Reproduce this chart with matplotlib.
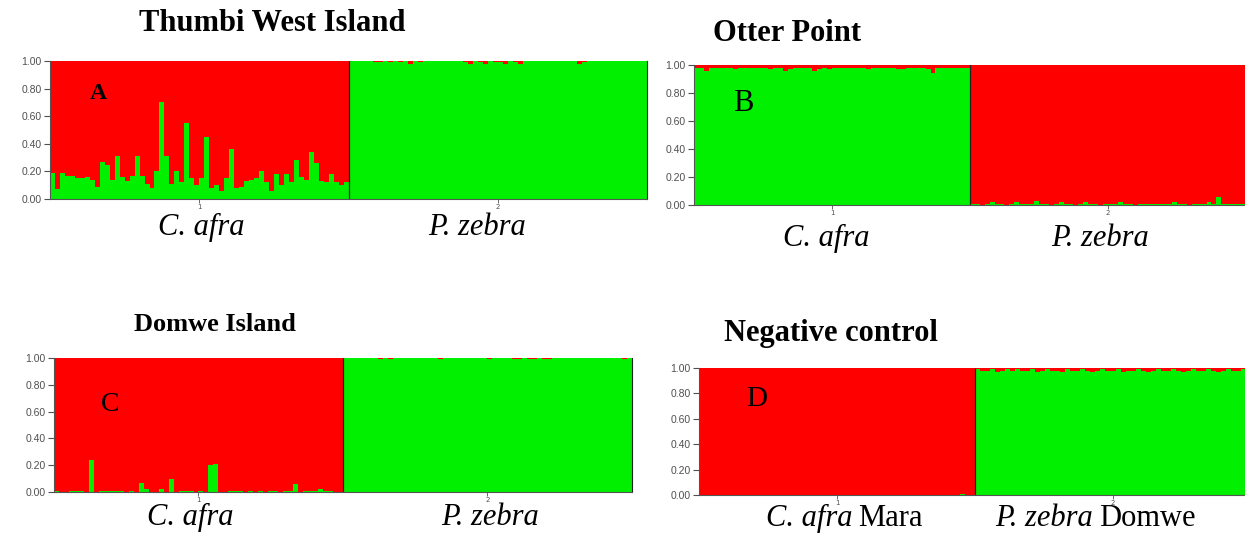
import numpy as np
import matplotlib
matplotlib.use("Agg")
import matplotlib.pyplot as plt

# Membership in the green cluster for each individual (red = 1 - green)
# Panel A: Thumbi West Island
thumbi_afra = [0.19, 0.07, 0.19, 0.17, 0.17, 0.15, 0.15, 0.16, 0.14, 0.09,
               0.27, 0.25, 0.14, 0.31, 0.16, 0.13, 0.17, 0.31, 0.17, 0.11,
               0.08, 0.20, 0.70, 0.31, 0.11, 0.20, 0.12, 0.55, 0.15, 0.10,
               0.15, 0.45, 0.08, 0.10, 0.06, 0.15, 0.36, 0.08, 0.09, 0.13,
               0.14, 0.15, 0.20, 0.12, 0.06, 0.18, 0.10, 0.18, 0.12, 0.28,
               0.16, 0.14, 0.34, 0.26, 0.13, 0.12, 0.18, 0.12, 0.10, 0.12]
thumbi_zebra = [1.00, 1.00, 1.00, 1.00, 1.00, 0.99, 0.99, 1.00, 0.99, 1.00,
                0.99, 1.00, 0.98, 1.00, 0.99, 1.00, 1.00, 1.00, 1.00, 1.00,
                1.00, 1.00, 1.00, 0.99, 0.98, 1.00, 0.99, 0.98, 1.00, 0.99,
                0.99, 0.98, 1.00, 0.99, 0.98, 1.00, 1.00, 1.00, 1.00, 1.00,
                1.00, 1.00, 1.00, 1.00, 1.00, 1.00, 0.98, 0.99, 1.00, 1.00,
                1.00, 1.00, 1.00, 1.00, 1.00, 1.00, 1.00, 1.00, 1.00, 1.00]

# Panel B: Otter Point
otter_afra = [0.98, 0.98, 0.96, 0.98, 0.98, 0.98, 0.98, 0.98, 0.97, 0.98,
              0.98, 0.98, 0.98, 0.98, 0.98, 0.97, 0.98, 0.98, 0.96, 0.97,
              0.98, 0.98, 0.98, 0.98, 0.96, 0.97, 0.98, 0.97, 0.98, 0.98,
              0.98, 0.98, 0.98, 0.98, 0.98, 0.97, 0.98, 0.98, 0.98, 0.98,
              0.98, 0.97, 0.97, 0.98, 0.98, 0.98, 0.98, 0.97, 0.94, 0.98,
              0.98, 0.98, 0.98, 0.98, 0.98, 0.98]
otter_zebra = [0.01, 0.01, 0.00, 0.01, 0.02, 0.01, 0.01, 0.00, 0.01, 0.02,
               0.01, 0.01, 0.01, 0.03, 0.01, 0.01, 0.00, 0.01, 0.02, 0.01,
               0.01, 0.00, 0.01, 0.02, 0.01, 0.01, 0.00, 0.01, 0.01, 0.01,
               0.02, 0.01, 0.01, 0.00, 0.01, 0.01, 0.01, 0.01, 0.01, 0.01,
               0.01, 0.02, 0.01, 0.01, 0.00, 0.01, 0.01, 0.01, 0.02, 0.01,
               0.06, 0.01, 0.01, 0.01, 0.01, 0.01]

# Panel C: Domwe Island
domwe_afra = [0.01, 0.00, 0.00, 0.01, 0.01, 0.01, 0.00, 0.24, 0.00, 0.01,
              0.01, 0.01, 0.01, 0.01, 0.00, 0.01, 0.00, 0.07, 0.02, 0.00,
              0.00, 0.02, 0.00, 0.10, 0.00, 0.01, 0.01, 0.01, 0.00, 0.01,
              0.00, 0.20, 0.21, 0.00, 0.00, 0.01, 0.01, 0.01, 0.00, 0.01,
              0.00, 0.01, 0.00, 0.01, 0.01, 0.00, 0.01, 0.01, 0.06, 0.00,
              0.01, 0.01, 0.01, 0.02, 0.01, 0.01, 0.00, 0.00]
domwe_zebra = [1.00, 1.00, 1.00, 1.00, 1.00, 1.00, 1.00, 0.99, 1.00, 0.99,
               1.00, 1.00, 1.00, 1.00, 1.00, 1.00, 1.00, 1.00, 1.00, 0.99,
               1.00, 1.00, 1.00, 1.00, 1.00, 1.00, 1.00, 1.00, 1.00, 0.99,
               1.00, 1.00, 1.00, 1.00, 0.99, 0.99, 1.00, 0.99, 0.99, 1.00,
               0.99, 0.99, 1.00, 1.00, 1.00, 1.00, 1.00, 1.00, 1.00, 1.00,
               1.00, 1.00, 1.00, 1.00, 1.00, 1.00, 0.99, 1.00]

# Panel D: negative control (C. afra from Mara, P. zebra from Domwe)
control_afra = [0.00, 0.00, 0.00, 0.00, 0.00, 0.00, 0.00, 0.00, 0.00, 0.00,
                0.00, 0.00, 0.00, 0.00, 0.00, 0.00, 0.00, 0.00, 0.00, 0.00,
                0.00, 0.00, 0.00, 0.00, 0.00, 0.00, 0.00, 0.00, 0.00, 0.00,
                0.00, 0.00, 0.00, 0.00, 0.00, 0.00, 0.00, 0.00, 0.00, 0.00,
                0.00, 0.00, 0.00, 0.00, 0.00, 0.00, 0.00, 0.00, 0.00, 0.00,
                0.00, 0.00, 0.01, 0.00, 0.00]
control_zebra = [0.99, 0.98, 0.98, 0.99, 0.97, 0.98, 0.99, 0.98, 0.99, 0.98,
                 0.98, 0.99, 0.97, 0.98, 0.99, 0.98, 0.98, 0.97, 0.99, 0.98,
                 0.98, 0.99, 0.98, 0.97, 0.98, 0.99, 0.98, 0.98, 0.99, 0.97,
                 0.98, 0.98, 0.99, 0.98, 0.97, 0.98, 0.99, 0.98, 0.98, 0.99,
                 0.98, 0.97, 0.98, 0.99, 0.98, 0.98, 0.99, 0.98, 0.97, 0.98,
                 0.99, 0.98, 0.98, 0.99, 0.98]

y_ticks = [0.0, 0.2, 0.4, 0.6, 0.8, 1.0]
pop_labels = ["1", "2"]

GREEN = "#00f000"
RED = "#ff0000"
W, H = 1245, 541


def fx(px):
    return px / W


def fy(py):
    return 1 - py / H


def structure_panel(rect, pop1, pop2, right_spine=True):
    # rect in pixels: left, top, right, bottom
    l, t, r, b = rect
    ax = fig.add_axes([fx(l), fy(b), fx(r - l), fy(t) - fy(b)])
    green = np.array(pop1 + pop2)
    # one step per individual, drawn as two filled step outlines
    edges = np.arange(len(green) + 1)
    g = np.append(green, green[-1])
    ax.fill_between(edges, 0, g, step="post", color=GREEN, lw=0)
    ax.fill_between(edges, g, 1, step="post", color=RED, lw=0)
    ax.axvline(len(pop1), color="#222222", lw=0.9)
    ax.set_xlim(0, len(green))
    ax.set_ylim(0, 1)
    ax.set_yticks(y_ticks)
    ax.set_yticklabels(["%.2f" % v for v in y_ticks], fontsize=7.5,
                       color="#505050", family="Liberation Sans")
    ax.set_xticks([len(pop1) / 2, len(pop1) + len(pop2) / 2])
    ax.set_xticklabels(pop_labels, fontsize=5, color="#505050")
    ax.tick_params(axis="y", length=4, width=0.8, pad=2, color="#505050")
    ax.tick_params(axis="x", length=3, width=0.6, pad=0.5, color="#505050")
    ax.spines["top"].set_visible(False)
    ax.spines["right"].set_visible(right_spine)
    ax.spines["right"].set_color("#222222")
    for s in ("left", "bottom"):
        ax.spines[s].set_color("#555555")
        ax.spines[s].set_linewidth(0.8)
    return ax


def label(px, py, s, style="normal", weight="normal", size=22, ha="center"):
    fig.text(fx(px), fy(py), s, ha=ha, va="baseline", fontsize=size,
             family="Liberation Serif", style=style, weight=weight)


fig = plt.figure(figsize=(W / 100, H / 100), dpi=100)

structure_panel((50, 61, 647, 199), thumbi_afra, thumbi_zebra)
structure_panel((694, 65, 1246, 205), otter_afra, otter_zebra, right_spine=False)
structure_panel((54, 358, 632, 492), domwe_afra, domwe_zebra)
structure_panel((699, 368, 1251, 495), control_afra, control_zebra, right_spine=False)

# Site titles
label(272, 31, "Thumbi West Island", weight="bold")
label(787, 41, "Otter Point", weight="bold")
label(215, 331, "Domwe Island", weight="bold", size=19)
label(831, 341, "Negative control", weight="bold")

# Panel letters
label(98, 99, "A", weight="bold", size=17)
label(743, 111, "B", size=22)
label(110, 411, "C", size=20)
label(757, 406, "D", size=21)

# Species names under each population
label(201, 235, "C. afra", style="italic")
label(477, 235, "P. zebra", style="italic")
label(826, 246, "C. afra", style="italic")
label(1100, 246, "P. zebra", style="italic")
label(190, 525, "C. afra", style="italic")
label(490, 525, "P. zebra", style="italic")
label(852, 526, "C. afra", style="italic", ha="right")
label(858, 526, "Mara", ha="left")
label(1093, 526, "P. zebra", style="italic", ha="right")
label(1099, 526, "Domwe", ha="left")

fig.savefig("out.png", dpi=100)
